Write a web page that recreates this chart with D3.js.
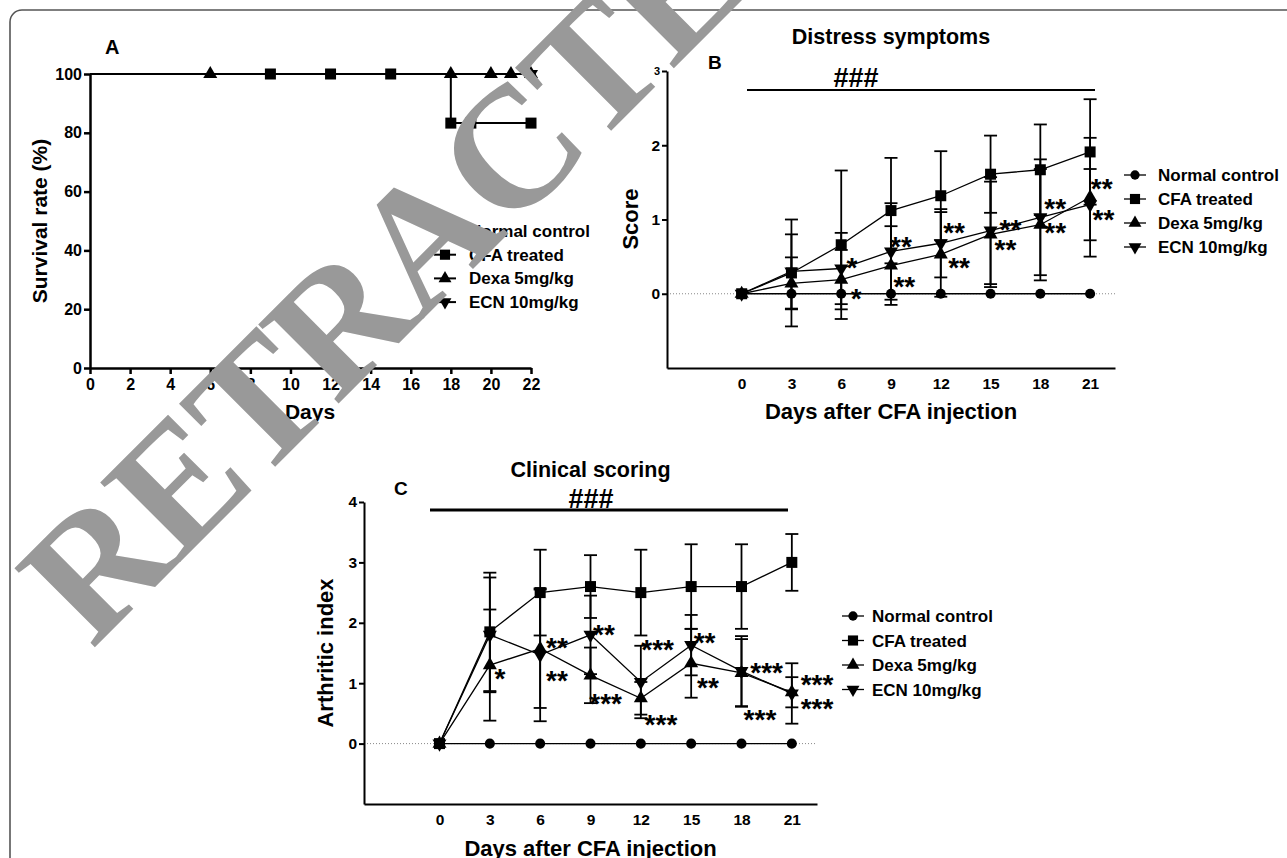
<!DOCTYPE html>
<html><head><meta charset="utf-8">
<script src="https://cdn.jsdelivr.net/npm/d3@7"></script>
<style>
body{margin:0;background:#fff}
svg{display:block}
text{font-family:"Liberation Sans",Arial,sans-serif;font-weight:bold;fill:#000}
text.wm{font-family:"Liberation Serif","Times New Roman",serif;fill:#999}
</style>
</head><body>
<svg id="chart" width="1287" height="858"></svg>
<script>
// ---------------- DATA ----------------
const groups = ["Normal control", "CFA treated", "Dexa 5mg/kg", "ECN 10mg/kg"];
const days = [0, 3, 6, 9, 12, 15, 18, 21];

// Panel A: survival
const survXTicks = [0, 2, 4, 6, 8, 10, 12, 14, 16, 18, 20, 22];
const survYTicks = [0, 20, 40, 60, 80, 100];
const survNormalTimes = [0, 22];
const survNormalVals = [100, 100];
const survCFATimes = [0, 18, 22];
const survCFAVals = [100, 83.3, 83.3];
const survCFAMarkTimes = [9, 12, 15, 18, 19, 22];
const survCFAMarkVals = [100, 100, 100, 83.3, 83.3, 83.3];
const survDexaTimes = [0, 22];
const survDexaVals = [100, 100];
const survDexaMarkTimes = [6, 18, 20, 21, 22];
const survDexaMarkVals = [100, 100, 100, 100, 100];
const survECNTimes = [0, 22];
const survECNVals = [100, 100];
const survECNMarkTimes = [22];
const survECNMarkVals = [100];

// Panel B: distress symptoms (mean, SD)
const distressYTicks = [0, 1, 2, 3];
const distressNormal = [0, 0, 0, 0, 0, 0, 0, 0];
const distressNormalErr = [0, 0, 0, 0, 0, 0, 0, 0];
const distressCFA = [0, 0.28, 0.66, 1.12, 1.32, 1.61, 1.67, 1.91];
const distressCFAErr = [0, 0.72, 1.0, 0.71, 0.6, 0.52, 0.61, 0.71];
const distressDexa = [0, 0.14, 0.19, 0.38, 0.53, 0.8, 0.93, 1.3];
const distressDexaErr = [0, 0.35, 0.4, 0.53, 0.57, 0.71, 0.75, 0.8];
const distressECN = [0, 0.3, 0.34, 0.57, 0.68, 0.85, 1.03, 1.2];
const distressECNErr = [0, 0.5, 0.48, 0.65, 0.46, 0.72, 0.78, 0.48];
const distressStarDays = [6.64, 6.9, 9.6, 9.8, 12.8, 13.1, 16.2, 15.9, 18.9, 18.9, 21.7, 21.8];
const distressStarVals = [0.43, 0.02, 0.72, 0.18, 0.91, 0.43, 0.95, 0.68, 1.23, 0.91, 1.5, 1.08];
const distressStarText = ["*", "*", "**", "**", "**", "**", "**", "**", "**", "**", "**", "**"];

// Panel C: clinical scoring (mean, SD)
const clinicalYTicks = [0, 1, 2, 3, 4];
const clinicalNormal = [0, 0, 0, 0, 0, 0, 0, 0];
const clinicalNormalErr = [0, 0, 0, 0, 0, 0, 0, 0];
const clinicalCFA = [0, 1.85, 2.5, 2.6, 2.5, 2.6, 2.6, 3.0];
const clinicalCFAErr = [0, 0.98, 0.71, 0.52, 0.71, 0.7, 0.7, 0.47];
const clinicalDexa = [0, 1.3, 1.57, 1.13, 0.75, 1.33, 1.17, 0.85];
const clinicalDexaErr = [0, 0.92, 0.98, 0.46, 0.27, 0.57, 0.56, 0.25];
const clinicalECN = [0, 1.8, 1.47, 1.8, 1.02, 1.63, 1.2, 0.83];
const clinicalECNErr = [0, 0.95, 1.1, 0.65, 0.6, 0.5, 0.58, 0.5];
const clinicalStarDays = [3.6, 7.0, 7.0, 9.8, 9.9, 13.0, 13.2, 15.8, 16.0, 19.5, 19.1, 22.5, 22.5];
const clinicalStarVals = [1.17, 1.69, 1.14, 1.9, 0.77, 1.66, 0.42, 1.77, 1.03, 1.28, 0.5, 1.08, 0.68];
const clinicalStarText = ["*", "**", "**", "**", "***", "***", "***", "**", "**", "***", "***", "***", "***"];

// ---------------- DRAWING ----------------
const svg = d3.select("#chart");
const symTypes = [d3.symbolCircle, d3.symbolSquare, d3.symbolTriangle, d3.symbolTriangle];
const symSizes = [80, 121, 85, 85];
function marker(sel, gi, cx, cy, scale) {
  const s = scale || 1;
  sel.append("path")
    .attr("d", d3.symbol().type(symTypes[gi]).size(symSizes[gi] * s)())
    .attr("transform", `translate(${cx},${cy})` + (gi === 3 ? " rotate(180)" : ""))
    .attr("fill", "#000");
}

// outer frame
svg.append("rect").attr("x", 10).attr("y", 10).attr("width", 1320).attr("height", 900)
  .attr("rx", 12).attr("fill", "none").attr("stroke", "#555").attr("stroke-width", 1.6);

function styleAxis(g, w, fs) {
  g.selectAll("path.domain").attr("stroke", "#000").attr("stroke-width", w);
  g.selectAll(".tick line").attr("stroke", "#000").attr("stroke-width", w);
  g.selectAll(".tick text").style("font-size", fs + "px");
}

function legend(g, lx, ty, dy, textX, fs, lw) {
  groups.forEach((name, i) => {
    const yy = ty + i * dy;
    g.append("line").attr("x1", lx - 11).attr("x2", lx + 11).attr("y1", yy).attr("y2", yy)
      .attr("stroke", "#000").attr("stroke-width", lw);
    marker(g, i, lx, yy, 0.85);
    g.append("text").attr("x", textX).attr("y", yy + 6).attr("font-size", fs).text(name);
  });
}

// ---- Panel A ----
(function () {
  const g = svg.append("g");
  const x = d3.scaleLinear().domain([0, 22]).range([90, 531]);
  const y = d3.scaleLinear().domain([0, 100]).range([368, 74]);
  const ax = g.append("g").attr("transform", "translate(0,368)")
    .call(d3.axisBottom(x).tickValues(survXTicks).tickFormat(d3.format("d")).tickSize(6).tickPadding(5).tickSizeOuter(0));
  styleAxis(ax, 2.5, 16);
  const ay = g.append("g").attr("transform", "translate(90,0)")
    .call(d3.axisLeft(y).tickValues(survYTicks).tickFormat(d3.format("d")).tickSize(6).tickPadding(2).tickSizeOuter(0));
  styleAxis(ay, 2.5, 16);

  const step = d3.line().curve(d3.curveStepAfter).x(d => x(d[0])).y(d => y(d[1]));
  const lines = [
    [survNormalTimes, survNormalVals],
    [survCFATimes, survCFAVals],
    [survDexaTimes, survDexaVals],
    [survECNTimes, survECNVals]
  ];
  lines.forEach(([t, v]) => {
    g.append("path").datum(t.map((d, i) => [d, v[i]])).attr("d", step)
      .attr("fill", "none").attr("stroke", "#000").attr("stroke-width", 2);
  });
  survCFAMarkTimes.forEach((t, i) => marker(g, 1, x(t), y(survCFAMarkVals[i])));
  survDexaMarkTimes.forEach((t, i) => marker(g, 2, x(t), y(survDexaMarkVals[i])));
  survECNMarkTimes.forEach((t, i) => marker(g, 3, x(t), y(survECNMarkVals[i])));

  g.append("text").attr("x", 105).attr("y", 54).attr("font-size", 20).text("A");
  g.append("text").attr("x", 310).attr("y", 419).attr("text-anchor", "middle").attr("font-size", 21).text("Days");
  g.append("text").attr("transform", "translate(47,221) rotate(-90)").attr("text-anchor", "middle")
    .attr("font-size", 21).text("Survival rate (%)");
  legend(g, 445, 231, 23.7, 469, 17, 2);
})();

// ---- Panels B & C ----
function linePanel(opt) {
  const g = svg.append("g");
  const x = d3.scaleLinear().domain([-4.5, 22.5]).range([opt.left, opt.right]);
  const y = d3.scaleLinear().domain(opt.yDomain).range([opt.bottom, opt.top]);

  g.append("line").attr("x1", opt.left).attr("x2", opt.right).attr("y1", y(0)).attr("y2", y(0))
    .attr("stroke", "#888").attr("stroke-width", 1).attr("stroke-dasharray", "1,2");

  const ax = g.append("g").attr("transform", `translate(0,${opt.bottom})`)
    .call(d3.axisBottom(x).tickValues(days).tickFormat(d3.format("d")).tickSize(0).tickPadding(10).tickSizeOuter(0));
  styleAxis(ax, 2, 15.5);
  const ay = g.append("g").attr("transform", `translate(${opt.left},0)`)
    .call(d3.axisLeft(y).tickValues(opt.yTicks).tickFormat(d3.format("d")).tickSize(5).tickPadding(2).tickSizeOuter(0));
  styleAxis(ay, 2, 15.5);
  if (opt.smallTop) ay.selectAll(".tick text").filter(d => d === opt.smallTop).style("font-size", "11px");

  const ln = d3.line().x((d, i) => x(days[i])).y(d => y(d));
  opt.series.forEach(s => {
    g.append("path").datum(s.vals).attr("d", ln).attr("fill", "none")
      .attr("stroke", "#000").attr("stroke-width", 1.3);
  });
  opt.series.forEach(s => {
    s.vals.forEach((v, i) => {
      const e = s.errs[i];
      if (!e) return;
      const cx = x(days[i]);
      g.append("line").attr("x1", cx).attr("x2", cx).attr("y1", y(v - e)).attr("y2", y(v + e))
        .attr("stroke", "#000").attr("stroke-width", 1.8);
      [v - e, v + e].forEach(c => g.append("line").attr("x1", cx - 6.5).attr("x2", cx + 6.5)
        .attr("y1", y(c)).attr("y2", y(c)).attr("stroke", "#000").attr("stroke-width", 1.8));
    });
  });
  opt.series.forEach((s, gi) => {
    s.vals.forEach((v, i) => marker(g, gi, x(days[i]), y(v)));
  });
  opt.starDays.forEach((d, i) => {
    g.append("text").attr("x", x(d)).attr("y", y(opt.starVals[i]) + 15.5)
      .attr("text-anchor", "middle").attr("font-size", 28).text(opt.starText[i]);
  });

  const cx = (opt.left + opt.right) / 2;
  g.append("text").attr("x", cx).attr("y", opt.titleY).attr("text-anchor", "middle").attr("font-size", 21.5).text(opt.title);
  g.append("text").attr("x", opt.letterX).attr("y", opt.letterY).attr("font-size", 19).text(opt.letter);
  g.append("text").attr("x", opt.hashX).attr("y", opt.hashY).attr("text-anchor", "middle").attr("font-size", 27).text("###");
  g.append("line").attr("x1", opt.barX1).attr("x2", opt.barX2).attr("y1", opt.barY).attr("y2", opt.barY)
    .attr("stroke", "#000").attr("stroke-width", opt.barW);
  g.append("text").attr("x", cx).attr("y", opt.xLabelY).attr("text-anchor", "middle").attr("font-size", 22).text("Days after CFA injection");
  g.append("text").attr("transform", `translate(${opt.yLabelX},${opt.yLabelY}) rotate(-90)`).attr("text-anchor", "middle")
    .attr("font-size", 22).text(opt.yLabel);
  legend(g, opt.legX, opt.legY, opt.legDy, opt.legTextX, 17, 1.3);
}

linePanel({
  left: 667, right: 1115, top: 71, bottom: 368, yDomain: [-1, 3], yTicks: distressYTicks, smallTop: 3,
  series: [
    {vals: distressNormal, errs: distressNormalErr},
    {vals: distressCFA, errs: distressCFAErr},
    {vals: distressDexa, errs: distressDexaErr},
    {vals: distressECN, errs: distressECNErr}
  ],
  starDays: distressStarDays, starVals: distressStarVals, starText: distressStarText,
  title: "Distress symptoms", titleY: 44, letter: "B", letterX: 708, letterY: 69,
  hashX: 856, hashY: 87, barX1: 747, barX2: 1095, barY: 90, barW: 2,
  xLabelY: 419, yLabel: "Score", yLabelX: 638, yLabelY: 219,
  legX: 1135, legY: 175, legDy: 24, legTextX: 1158
});

linePanel({
  left: 364, right: 817, top: 502, bottom: 804, yDomain: [-1, 4], yTicks: clinicalYTicks,
  series: [
    {vals: clinicalNormal, errs: clinicalNormalErr},
    {vals: clinicalCFA, errs: clinicalCFAErr},
    {vals: clinicalDexa, errs: clinicalDexaErr},
    {vals: clinicalECN, errs: clinicalECNErr}
  ],
  starDays: clinicalStarDays, starVals: clinicalStarVals, starText: clinicalStarText,
  title: "Clinical scoring", titleY: 477, letter: "C", letterX: 394, letterY: 495,
  hashX: 591, hashY: 508, barX1: 430, barX2: 788, barY: 510, barW: 3,
  xLabelY: 856, yLabel: "Arthritic index", yLabelX: 333, yLabelY: 653,
  legX: 853, legY: 616, legDy: 24.5, legTextX: 872
});

// ---- Watermark ----
svg.append("text").attr("class", "wm").attr("transform", "translate(92,650) rotate(-45)")
  .attr("font-size", 172).attr("letter-spacing", -3)
  .text("RETRACTED");
</script>
</body></html>
